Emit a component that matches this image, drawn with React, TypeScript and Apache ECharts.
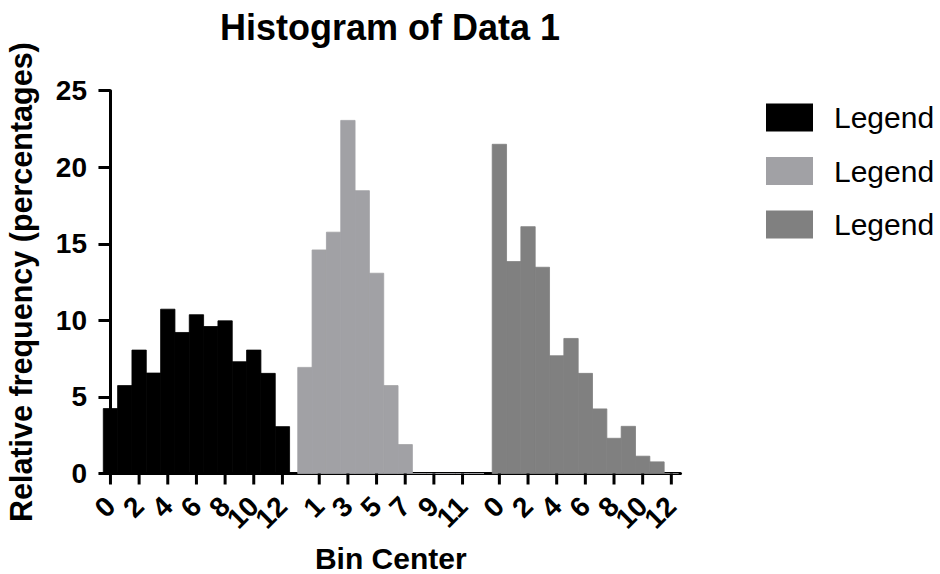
import React, { useEffect, useRef } from "react";
import * as echarts from "echarts";

// ---- Data ----
const binCenters = [0, 1, 2, 3, 4, 5, 6, 7, 8, 9, 10, 11, 12];
const data1Values = [4.24, 5.74, 8.06, 6.56, 10.73, 9.21, 10.37, 9.6, 9.97, 7.3, 8.06, 6.54, 3.06];
const data2Values = [6.93, 14.6, 15.76, 23.06, 18.47, 13.08, 5.74, 1.89, 0, 0, 0, 0, 0];
const data3Values = [21.5, 13.84, 16.12, 13.47, 7.69, 8.82, 6.54, 4.22, 2.3, 3.08, 1.13, 0.76, 0];
const seriesNames = ["Data 1", "Data 2", "Data 3"];
const legendLabels = ["Legend", "Legend", "Legend"];
const tickLabels1 = [0, 2, 4, 6, 8, 10, 12];
const tickLabels2 = [1, 3, 5, 7, 9, 11];
const tickLabels3 = [0, 2, 4, 6, 8, 10, 12];

const titleText = "Histogram of Data 1";
const xAxisTitle = "Bin Center";
const yAxisTitle = "Relative frequency (percentages)";

// ---- Layout / style ----
const GROUP_OFFSET = 13.57; // spacing between data sets, in bin units
const X_MIN = -0.66;
const X_MAX = 39.78;
const FONT = "'Liberation Sans', Arial, Helvetica, sans-serif";
const COLORS = ["#000000", "#a1a1a5", "#808080"];

export default function App() {
  const ref = useRef<HTMLDivElement>(null);

  useEffect(() => {
    if (!ref.current) return;
    const chart = echarts.init(ref.current, null, { renderer: "svg" });

    const groups = [data1Values, data2Values, data3Values];
    const tickGroups = [tickLabels1, tickLabels2, tickLabels3];

    const labelMap = new Map<string, string>();
    const tickValues: number[] = [];
    tickGroups.forEach((ticks, g) => {
      ticks.forEach((t) => {
        const v = g * GROUP_OFFSET + t;
        tickValues.push(v);
        labelMap.set(v.toFixed(3), String(t));
      });
    });
    // blank placeholder at the axis end so that the last real label is not auto-hidden
    const labelValues = [...tickValues, X_MAX];
    labelMap.set(X_MAX.toFixed(3), " ");

    const barSeries = groups.map((vals, g) => ({
      name: seriesNames[g],
      type: "custom",
      itemStyle: { color: COLORS[g] },
      data: binCenters.map((b, i) => [g * GROUP_OFFSET + b, vals[i]]),
      renderItem: (params: any, api: any) => {
        const x = api.value(0);
        const v = api.value(1);
        const p0 = api.coord([x - 0.5, v]);
        const p1 = api.coord([x + 0.5, 0]);
        return {
          type: "rect",
          shape: { x: p0[0], y: p0[1], width: p1[0] - p0[0], height: p1[1] - p0[1] },
          style: { fill: COLORS[g], stroke: COLORS[g], lineWidth: 0.8 },
        };
      },
    }));

    const tickSeries = {
      name: "ticks",
      type: "custom",
      silent: true,
      z: 5,
      data: tickValues.map((v) => [v, 0]),
      renderItem: (params: any, api: any) => {
        const p = api.coord([api.value(0), 0]);
        return {
          type: "line",
          shape: { x1: p[0], y1: p[1], x2: p[0], y2: p[1] + 11 },
          style: { stroke: "#000", lineWidth: 3 },
        };
      },
    };

    chart.setOption({
      animation: false,
      title: {
        text: titleText,
        left: 385,
        top: 4,
        textAlign: "center",
        textStyle: { fontFamily: FONT, fontWeight: "bold", fontSize: 36, color: "#000" },
      },
      legend: {
        orient: "vertical",
        left: 766,
        top: 102.5,
        padding: 0,
        itemWidth: 47,
        itemHeight: 28,
        itemGap: 23.5,
        icon: "rect",
        data: seriesNames,
        formatter: (name: string) => legendLabels[seriesNames.indexOf(name)],
        textStyle: { fontFamily: FONT, fontSize: 30, color: "#000", padding: [0, 0, 0, 16] },
      },
      grid: {
        left: 101,
        right: 259.5,
        top: 90.7,
        bottom: 100.5,
        containLabel: false,
        outerBoundsMode: "none",
      },
      xAxis: {
        type: "value",
        min: X_MIN,
        max: X_MAX,
        name: xAxisTitle,
        nameLocation: "middle",
        nameGap: 70,
        nameTextStyle: { fontFamily: FONT, fontWeight: "bold", fontSize: 30, color: "#000" },
        axisLine: { show: true, onZero: false, lineStyle: { color: "#000", width: 3 } },
        axisTick: { show: false },
        axisLabel: {
          customValues: labelValues,
          hideOverlap: false,
          rotate: 45,
          margin: 28,
          fontFamily: FONT,
          fontWeight: "bold",
          fontSize: 28,
          color: "#000",
          formatter: (v: number) => labelMap.get(v.toFixed(3)) ?? "",
        },
        splitLine: { show: false },
      },
      yAxis: {
        type: "value",
        min: 0,
        max: 25,
        interval: 5,
        name: yAxisTitle,
        nameLocation: "middle",
        nameRotate: 90,
        nameGap: 65,
        nameTextStyle: { fontFamily: FONT, fontWeight: "bold", fontSize: 30.5, color: "#000" },
        axisLine: { show: true, lineStyle: { color: "#000", width: 3 } },
        axisTick: { show: true, length: 12, lineStyle: { color: "#000", width: 3 } },
        axisLabel: { margin: 14, fontFamily: FONT, fontWeight: "bold", fontSize: 28, color: "#000" },
        splitLine: { show: false },
      },
      series: [...barSeries, tickSeries],
    });

    return () => chart.dispose();
  }, []);

  return (
    <div
      ref={ref}
      style={{ position: "absolute", left: 0, top: 0, width: 940, height: 574 }}
    />
  );
}
